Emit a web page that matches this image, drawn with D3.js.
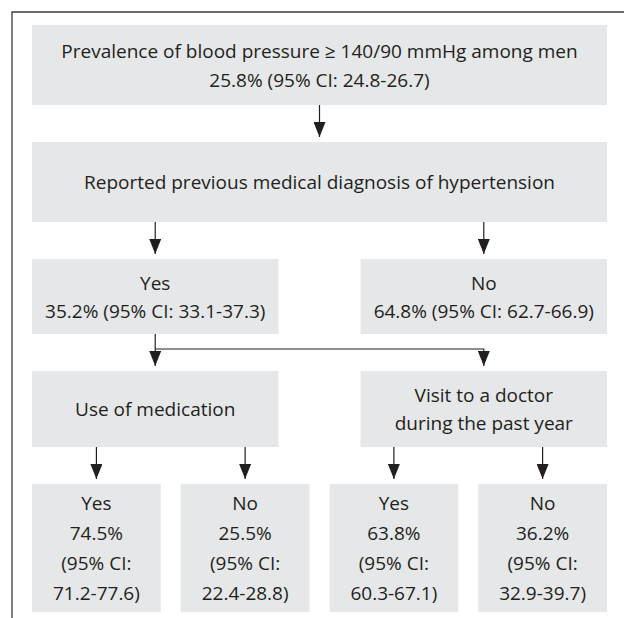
<!DOCTYPE html>
<html>
<head>
<meta charset="utf-8">
<script src="https://cdn.jsdelivr.net/npm/d3@7"></script>
<style>
  body { margin: 0; background: #fff; }
  text { font-family: "Open Sans", "Noto Sans", sans-serif; fill: #231f20; }
</style>
</head>
<body>
<div id="chart"></div>
<script>
// Chart values
const headLabels = ["Prevalence of blood pressure \u2265 140/90 mmHg among men",
                    "Reported previous medical diagnosis of hypertension"];
const prevalencePct = [25.8];
const prevalenceCI = [[24.8, 26.7]];
const diagnosisGroups = ["Yes", "No"];
const diagnosisPct = [35.2, 64.8];
const diagnosisCI = [[33.1, 37.3], [62.7, 66.9]];
const followUpLabels = [["Use of medication"], ["Visit to a doctor", "during the past year"]];
const outcomeGroups = ["Yes", "No", "Yes", "No"];
const outcomePct = [74.5, 25.5, 63.8, 36.2];
const outcomeCI = [[71.2, 77.6], [22.4, 28.8], [60.3, 67.1], [32.9, 39.7]];

const width = 624, height = 618;
const fmt = d3.format(".1f");
const ciText = ci => `(95% CI: ${fmt(ci[0])}-${fmt(ci[1])})`;

const svg = d3.select("#chart").append("svg")
    .attr("width", width)
    .attr("height", height);

// frame (top and left edges only)
svg.append("path")
    .attr("d", `M12,${height} V12 H${width}`)
    .attr("fill", "none")
    .attr("stroke", "#3a3a3a")
    .attr("stroke-width", 1.3);

// layout scales
const left = 32, right = 607;
const twoCols = d3.scaleBand().domain([0, 1]).range([left, right]).paddingInner(0.25);
const fourCols = d3.scaleBand().domain([0, 1, 2, 3]).range([left, right]).paddingInner(0.134);

const rowHeights = [80, 80, 75, 76, 128];
const rowGap = 37;
const rowTop = [];
rowHeights.reduce((y, h, i) => { rowTop[i] = y; return y + h + rowGap; }, 25);

const lineGap = [29, 0, 28, 28, 30];
const boxFill = "#e6e7e8";

// nodes
const nodes = [];
nodes.push({ id: "prev", row: 0, x0: left, x1: right,
    lines: [headLabels[0], `${fmt(prevalencePct[0])}% ${ciText(prevalenceCI[0])}`] });
nodes.push({ id: "diag", row: 1, x0: left, x1: right, lines: [headLabels[1]] });
diagnosisGroups.forEach((g, i) => nodes.push({ id: "d" + i, row: 2,
    x0: twoCols(i), x1: twoCols(i) + twoCols.bandwidth(),
    lines: [g, `${fmt(diagnosisPct[i])}% ${ciText(diagnosisCI[i])}`] }));
followUpLabels.forEach((l, i) => nodes.push({ id: "f" + i, row: 3,
    x0: twoCols(i), x1: twoCols(i) + twoCols.bandwidth(), lines: l }));
outcomeGroups.forEach((g, i) => {
    const ci = ciText(outcomeCI[i]).split(" ");
    nodes.push({ id: "o" + i, row: 4,
        x0: fourCols(i), x1: fourCols(i) + fourCols.bandwidth(),
        lines: [g, `${fmt(outcomePct[i])}%`, ci.slice(0, 2).join(" "), ci[2]] });
});
const byId = Object.fromEntries(nodes.map(d => [d.id, d]));
const cx = d => (d.x0 + d.x1) / 2;
const boxTop = d => rowTop[d.row];
const boxBottom = d => rowTop[d.row] + rowHeights[d.row];

const boxes = svg.append("g").selectAll("g")
    .data(nodes)
    .join("g");

boxes.append("rect")
    .attr("x", d => d.x0)
    .attr("y", d => boxTop(d))
    .attr("width", d => d.x1 - d.x0)
    .attr("height", d => rowHeights[d.row])
    .attr("fill", boxFill);

boxes.append("text")
    .attr("text-anchor", "middle")
    .attr("font-size", 19)
    .selectAll("tspan")
    .data(d => d.lines.map((t, j) => ({ t, j, d })))
    .join("tspan")
    .attr("x", e => cx(e.d))
    .attr("y", e => {
        const gap = lineGap[e.d.row];
        const n = e.d.lines.length;
        const mid = boxTop(e.d) + rowHeights[e.d.row] / 2;
        return mid + (e.j - (n - 1) / 2) * gap + 7;
    })
    .text(e => e.t);

// arrows
svg.append("defs").append("marker")
    .attr("id", "head")
    .attr("markerUnits", "userSpaceOnUse")
    .attr("viewBox", "0 0 15 12")
    .attr("markerWidth", 15)
    .attr("markerHeight", 12)
    .attr("refX", 15)
    .attr("refY", 6)
    .attr("orient", "auto")
  .append("path")
    .attr("d", "M0,0 L15,6 L0,12 Z")
    .attr("fill", "#231f20");

const tipGap = 5;
const links = [];
links.push([cx(byId.prev), boxBottom(byId.prev), cx(byId.prev), boxTop(byId.diag) - tipGap]);
["d0", "d1"].forEach(id => links.push([cx(byId[id]), boxBottom(byId.diag), cx(byId[id]), boxTop(byId[id]) - tipGap]));
const elbowY = boxBottom(byId.d0) + 15;
links.push([cx(byId.d0), boxBottom(byId.d0), cx(byId.f0), boxTop(byId.f0) - tipGap]);
links.push([cx(byId.d0), elbowY, cx(byId.f1), boxTop(byId.f1) - tipGap, true]);
["o0", "o1"].forEach(id => links.push([cx(byId[id]), boxBottom(byId.f0), cx(byId[id]), boxTop(byId[id]) - tipGap]));
["o2", "o3"].forEach(id => links.push([cx(byId[id]), boxBottom(byId.f1), cx(byId[id]), boxTop(byId[id]) - tipGap]));

svg.append("g").selectAll("path")
    .data(links)
    .join("path")
    .attr("d", l => l[4]
        ? `M${l[0]},${l[1]} H${l[2]} V${l[3]}`
        : `M${l[0]},${l[1]} V${l[3]}`)
    .attr("fill", "none")
    .attr("stroke", "#231f20")
    .attr("stroke-width", 1.2)
    .attr("marker-end", "url(#head)");
</script>
</body>
</html>
